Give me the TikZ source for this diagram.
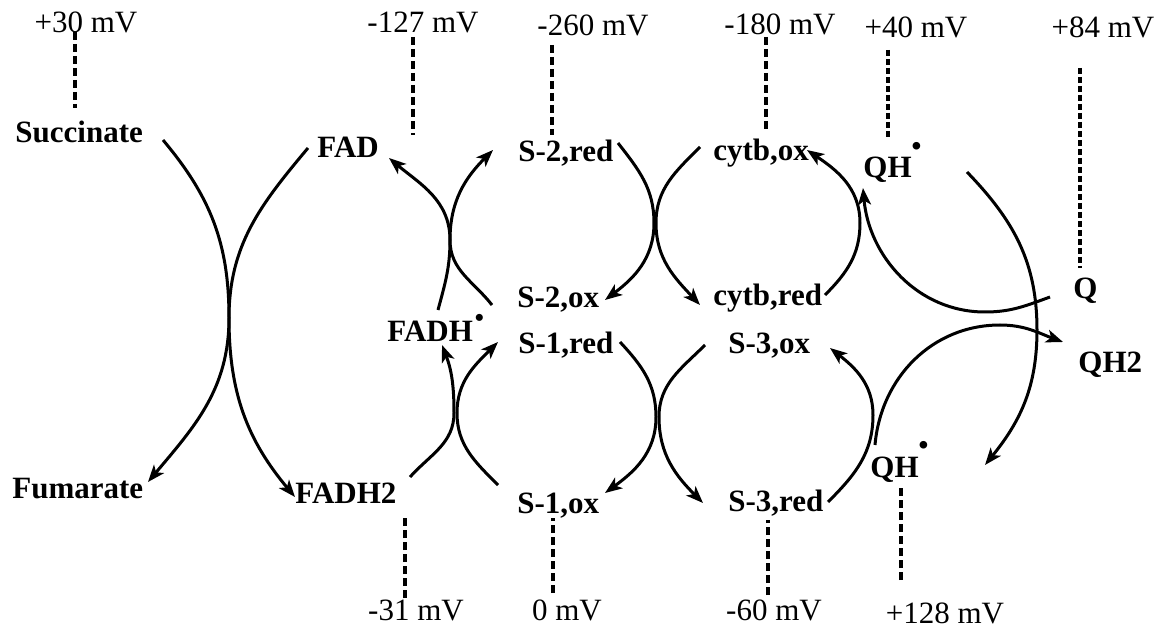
\documentclass[tikz,border=0pt]{standalone}
\usepackage{fontspec}
\setmainfont{Liberation Serif}
\usetikzlibrary{arrows.meta}
\newcommand{\radicaldot}[2]{\raisebox{#1}{\fontsize{#2}{#2}\selectfont\textbullet}}
\begin{document}
\begin{tikzpicture}[x=0.5pt,y=-0.5pt,
  lab/.style={font=\fontsize{15.5}{18}\selectfont\bfseries, inner sep=0pt, anchor=base west},
  mv/.style={font=\fontsize{15.5}{18}\selectfont, inner sep=0pt, anchor=base},
  arr/.style={line width=1.5pt, -{Stealth[length=8.5pt,width=6.5pt,inset=2.2pt]}},
  vline/.style={line width=1.6pt, dash pattern=on 4pt off 2pt},
  vdot/.style={line width=1.6pt, dash pattern=on 3pt off 1.5pt}]
\useasboundingbox (0,0) rectangle (1164,631);

% species
\node[lab] (succ) at (15,143) {Succinate};
\node[lab] (fad) at (317,158) {FAD};
\node[lab] (s2red) at (518,162) {S-2,red};
\node[lab] (cytbox) at (713,161) {cytb,ox};
\node[lab] (qhtop) at (863,178) {QH\radicaldot{11pt}{14}};
\node[lab] (s2ox) at (517,307) {S-2,ox};
\node[lab] (cytbred) at (713,306) {cytb,red};
\node[lab] (q) at (1073,299) {Q};
\node[lab] (qh2) at (1078,372) {QH2};
\node[lab] (fadh) at (387,342) {FADH\hspace{1pt}\radicaldot{7.5pt}{13}};
\node[lab] (s1red) at (518,353) {S-1,red};
\node[lab] (s3ox) at (728,353) {S-3,ox};
\node[lab] (fum) at (12,498) {Fumarate};
\node[lab] (fadh2) at (295,503) {FADH2};
\node[lab] (s1ox) at (517,513) {S-1,ox};
\node[lab] (s3red) at (728,511) {S-3,red};
\node[lab] (qhbot) at (870,477) {QH\radicaldot{11.5pt}{14}};

% potentials
\node[mv] (v30) at (86,33) {+30 mV};
\node[mv] (v127) at (423,33) {-127 mV};
\node[mv] (v260) at (593,36) {-260 mV};
\node[mv] (v180) at (780,35) {-180 mV};
\node[mv] (v40) at (916,38) {+40 mV};
\node[mv] (v84) at (1103,38) {+84 mV};
\node[mv] (v31) at (416,620) {-31 mV};
\node[mv] (v0) at (567,620) {0 mV};
\node[mv] (v60) at (774,620) {-60 mV};
\node[mv] (v128) at (945,623) {+128 mV};

% dashed level lines
\draw[vline] (v30.base) ++(-11,-1) -- ++(0,76);
\draw[vline] (v127.base) ++(-10,4) -- ++(0,98);
\draw[vline] (v260.base) ++(-41,9) -- ++(0,90);
\draw[vline] (v180.base) ++(-14,2) -- ++(0,93);
\draw[vdot] (v40.base) ++(-28,12) -- ++(0,88);
\draw[vdot] (v84.base) ++(-23,30) -- ++(0,200);
\draw[vline] (v31.base) ++(-11,-22) -- ++(0,-83);
\draw[vline] (v0.base) ++(-14,-27) -- ++(0,-75);
\draw[vline] (v60.base) ++(-6,-25) -- ++(0,-75);
\draw[vline] (v128.base) ++(-44,-43) -- ++(0,-92);

% crossing points
\coordinate (m1) at (229,318);
\coordinate (m2) at (450,240);
\coordinate (m3a) at (454,413);
\coordinate (m3b) at (457,413);
\coordinate (m4a) at (654,223);
\coordinate (m4b) at (656,223);
\coordinate (m5a) at (656,417);
\coordinate (m5b) at (659,417);
\coordinate (m6) at (860,223);
\coordinate (m7) at (985,312);
\coordinate (m8) at (1037,330);
\coordinate (m9) at (1000,325);
\coordinate (m10) at (873,415);

% connectors
\draw[arr] ([shift={(148,-3)}]succ.base west) to[out=-50,in=90] (m1) to[out=-90,in=130] ([shift={(0,-6)}]fadh2.base west);
\draw[arr] ([shift={(-9,-10)}]fad.base west) to[out=-130,in=90] (m1) to[out=-90,in=50] ([shift={(136,-16)}]fum.base west);

\draw[arr] ([shift={(-25,-2)}]s2ox.base west) to[out=128,in=-90] (m2) to[out=90,in=-40] ([shift={(72,0)}]fad.base west);
\draw[arr] ([shift={(51,-32)}]fadh.base west) to[out=75,in=-90] (m2) to[out=90,in=-135] ([shift={(-25,-12)}]s2red.base west);

\draw[arr] ([shift={(115,-26)}]fadh2.base west) to[out=48,in=-90] (m3a) to[out=90,in=-69] ([shift={(55,3)}]fadh.base west);
\draw[arr] ([shift={(-19,-28)}]s1ox.base west) to[out=135,in=-90] (m3b) to[out=90,in=-135] ([shift={(-20,-11)}]s1red.base west);

\draw[arr] ([shift={(100,-19)}]s2red.base west) to[out=-52,in=90] (m4a) to[out=-90,in=37] ([shift={(88,-7)}]s2ox.base west);
\draw[arr] ([shift={(-13,-14)}]cytbox.base west) to[out=-135,in=90] (m4b) to[out=-90,in=133] ([shift={(-13,-1)}]cytbred.base west);

\draw[arr] ([shift={(102,-11)}]s1red.base west) to[out=-47,in=90] (m5a) to[out=-90,in=36] ([shift={(88,-20)}]s1ox.base west);
\draw[arr] ([shift={(-23,-8)}]s3ox.base west) to[out=-135,in=90] (m5b) to[out=-90,in=135] ([shift={(-25,-8)}]s3red.base west);

\draw[arr] ([shift={(112,-11)}]cytbred.base west) to[out=45,in=-90] (m6) to[out=90,in=-34] ([shift={(94,-11)}]cytbox.base west);
\draw[arr] ([shift={(-23,-2)}]q.base west) to[out=200,in=0] (m7) to[out=180,in=-85] ([shift={(0,10)}]qhtop.base west);
\draw[arr] ([shift={(104,-6)}]qhtop.base west) to[out=-46,in=90] (m8) to[out=-90,in=51] ([shift={(115,-12)}]qhbot.base west);
\draw[arr] ([shift={(5,-32)}]qhbot.base west) to[out=85,in=180] (m9) to[out=0,in=160] ([shift={(-15,-30)}]qh2.base west);
\draw[arr] ([shift={(100,-9)}]s3red.base west) to[out=45,in=-90] (m10) to[out=90,in=-38] ([shift={(102,-5)}]s3ox.base west);
\end{tikzpicture}
\end{document}
